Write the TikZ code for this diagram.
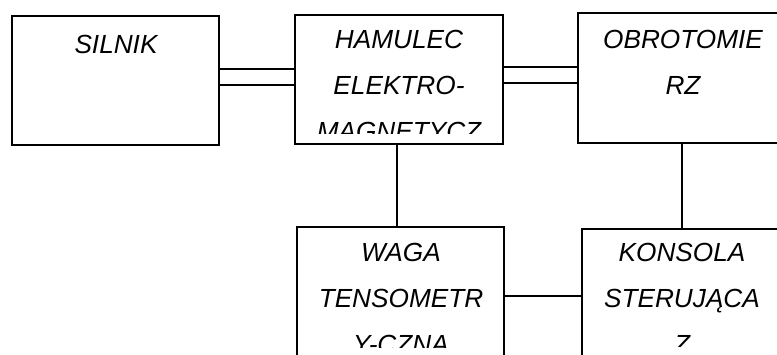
\documentclass[tikz,border=0pt]{standalone}
\usepackage{fontspec}
\setmainfont{Liberation Sans}
\usepackage{tikz}
\usetikzlibrary{positioning}

\begin{document}
\begin{tikzpicture}[x=1pt,y=-1pt,
  blok/.style={draw,line width=1.8pt,minimum width=#1,minimum height=129pt,inner sep=0pt},
  blok/.default=207pt,
  opis/.style={align=center,anchor=base,inner sep=0pt,font=\fontsize{26.2}{46}\selectfont\itshape},
  wal/.style={line width=1.2pt}
]
  \useasboundingbox (0,0) rectangle (777,354);
  \clip (0,0) rectangle (777,354);
  % bloki
  \node[blok] (silnik) at (115.5,80.5) {};
  \node[blok=208pt] (hamulec) at (399,79.5) {};
  \node[blok=210pt,minimum height=130pt] (obrot) at (683,78) {};
  \node[blok,minimum height=130pt] (waga) at (400.5,292) {};
  \node[blok=204pt,minimum height=130pt] (konsola) at (684,294) {};
  % opisy (anchor base = linia bazowa ostatniego wiersza)
  \node[opis] (silnik-t) at (116,53) {SILNIK};
  \begin{scope}
    \clip (295,15) rectangle (503,133);
    \node[opis] (hamulec-t) at (399,140) {HAMULEC\\ELEKTRO-\\MAGNETYCZ};
  \end{scope}
  \node[opis] (obrot-t) at (683,94) {OBROTOMIE\\RZ};
  \begin{scope}
    \clip (297,227) rectangle (504,347);
    \node[opis] (waga-t) at (401,353) {WAGA\\TENSOMETR\\Y-CZNA};
  \end{scope}
  \begin{scope}
    \clip (582,229) rectangle (786,346);
    \node[opis] (konsola-t) at (682,353) {KONSOLA\\STERUJĄCA\\Z};
  \end{scope}
  % polaczenia
  \draw[wal] (silnik.east |- 0,69) -- (hamulec.west |- 0,69);
  \draw[wal] (silnik.east |- 0,85) -- (hamulec.west |- 0,85);
  \draw[wal] (hamulec.east |- 0,67) -- (obrot.west |- 0,67);
  \draw[wal] (hamulec.east |- 0,83) -- (obrot.west |- 0,83);
  \draw[wal] (397,0 |- hamulec.south) -- (397,0 |- waga.north);
  \draw[wal] (682,0 |- obrot.south) -- (682,0 |- konsola.north);
  \draw[wal] (waga.east |- 0,296) -- (konsola.west |- 0,296);
\end{tikzpicture}
\end{document}
